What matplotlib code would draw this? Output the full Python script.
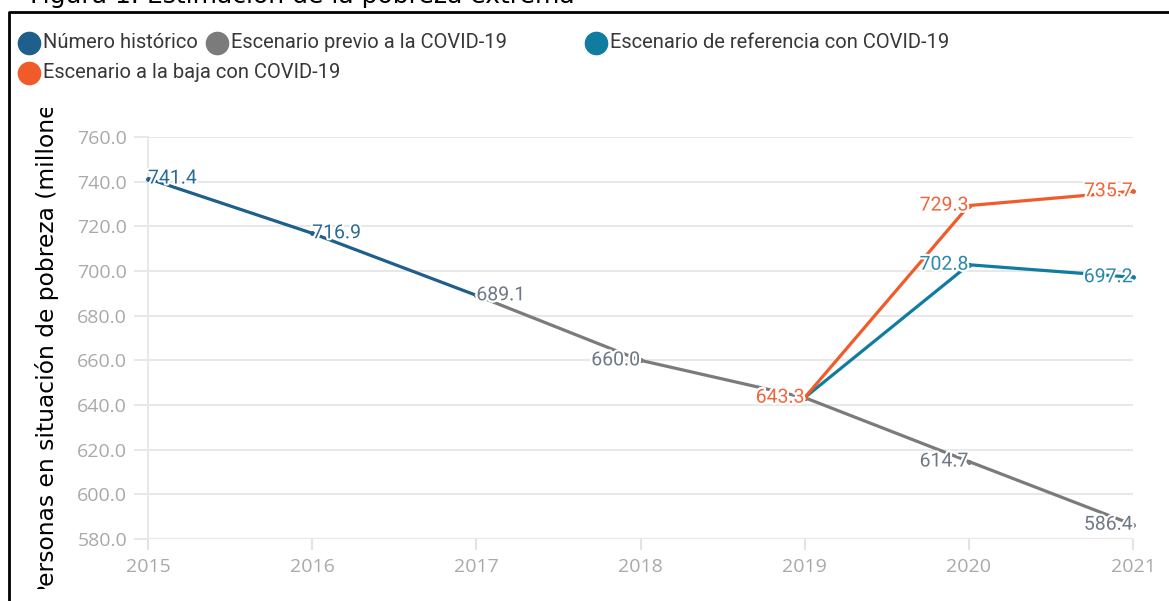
import matplotlib
matplotlib.use("Agg")
import matplotlib.pyplot as plt
import matplotlib.patheffects as pe
from matplotlib.lines import Line2D
from matplotlib.transforms import Bbox
from matplotlib import font_manager

# datos (millones de personas en pobreza extrema)
anios = [2015, 2016, 2017, 2018, 2019, 2020, 2021]
anios_hist = [2015, 2016, 2017]
historico = [741.4, 716.9, 689.1]
anios_prev = [2017, 2018, 2019, 2020, 2021]
previo = [689.1, 660.0, 643.3, 614.7, 586.4]
anios_covid = [2019, 2020, 2021]
referencia = [643.3, 702.8, 697.2]
baja = [643.3, 729.3, 735.7]
y_ticks = [580, 600, 620, 640, 660, 680, 700, 720, 740, 760]

nombres = ["Número histórico", "Escenario previo a la COVID-19",
           "Escenario de referencia con COVID-19", "Escenario a la baja con COVID-19"]
col_lineas = ["#1f5f8b", "#7b7b7b", "#107ca0", "#f15a29"]
col_textos = ["#2c6a98", "#6f7884", "#2a88ad", "#f2643a"]


def fuente(opciones):
    disp = {f.name for f in font_manager.fontManager.ttflist}
    for o in opciones:
        if o in disp:
            return o
    return "DejaVu Sans"


f_narrow = fuente(["Liberation Sans Narrow", "Roboto", "Lato"])
f_ticks = fuente(["Open Sans", "DejaVu Sans"])

W, H = 1169, 601
fig = plt.figure(figsize=(W / 100, H / 100), dpi=100)
ax = fig.add_axes([148 / W, 62 / H, (1133 - 148) / W, (539 - 137) / H])

series = [(anios_hist, historico), (anios_prev, previo),
          (anios_covid, referencia), (anios_covid, baja)]

for (xs, ys), c in zip(series, col_lineas):
    ax.plot(xs, ys, color=c, lw=2.3, solid_capstyle="butt", zorder=3, clip_on=False)
    ax.plot(xs, ys, "o", color=c, ms=2.5, zorder=3, clip_on=False)

halo = [pe.withStroke(linewidth=3, foreground="white")]
for (xs, ys), c in zip(series, col_textos):
    for x, y in zip(xs, ys):
        ha = "left" if x <= 2017 else "right"
        ax.text(x, y, f"{y:.1f}", color=c, fontsize=14, family=f_narrow,
                ha=ha, va="center", zorder=5, path_effects=halo, clip_on=False)

ax.set_xlim(2015, 2021)
ax.set_ylim(580, 760)
ax.set_xticks(anios)
ax.set_yticks(y_ticks)
ax.set_yticklabels([f"{v:.1f}" for v in y_ticks])
ax.grid(axis="y", color="#e8e8e8", lw=1.5, zorder=0)
for s in ["top", "right", "bottom"]:
    ax.spines[s].set_visible(False)
ax.spines["left"].set_color("#e8e8e8")
ax.spines["left"].set_linewidth(1.5)
ax.axhline(580, color="#e3e3e3", lw=1.5, zorder=1)
ax.tick_params(axis="y", length=10, width=1.5, color="#e8e8e8", pad=5,
               labelsize=14, labelcolor="#a9a9a9")
ax.tick_params(axis="x", length=8, width=1.5, color="#e3e3e3", pad=6,
               labelsize=14, labelcolor="#a9a9a9")
for lb in ax.get_xticklabels() + ax.get_yticklabels():
    lb.set_family(f_ticks)

# título del eje, recortado como en la captura
yl = fig.text(47 / W, 1 - 341 / H, "Personas en situación de pobreza (millones)",
              rotation=90, ha="center", va="center", fontsize=16.8, color="black")
yl.set_clip_box(Bbox.from_extents(0, 601 - 589, 200, 601 - 108))

# leyenda manual
filas = [(29, 43, 0), (217, 43, 1), (596, 43, 2), (29, 73, 3)]
for x, y, i in filas:
    fig.add_artist(Line2D([x / W], [1 - y / H], marker="o", ms=16,
                          color=col_lineas[i], transform=fig.transFigure))
    fig.text((x + 14) / W, 1 - y / H, nombres[i], fontsize=14.5, family=f_narrow,
             color="#383838", ha="left", va="center")

# marco y título cortado
fig.add_artist(Line2D([8.5 / W, 8.5 / W, 1], [0, 1 - 12 / H, 1 - 12 / H],
                      color="black", lw=2, transform=fig.transFigure))
fig.text(30 / W, 1 - 3 / H, "Figura 1. Estimación de la pobreza extrema",
         fontsize=18, color="black", va="baseline")

fig.savefig("out.png", dpi=100)
